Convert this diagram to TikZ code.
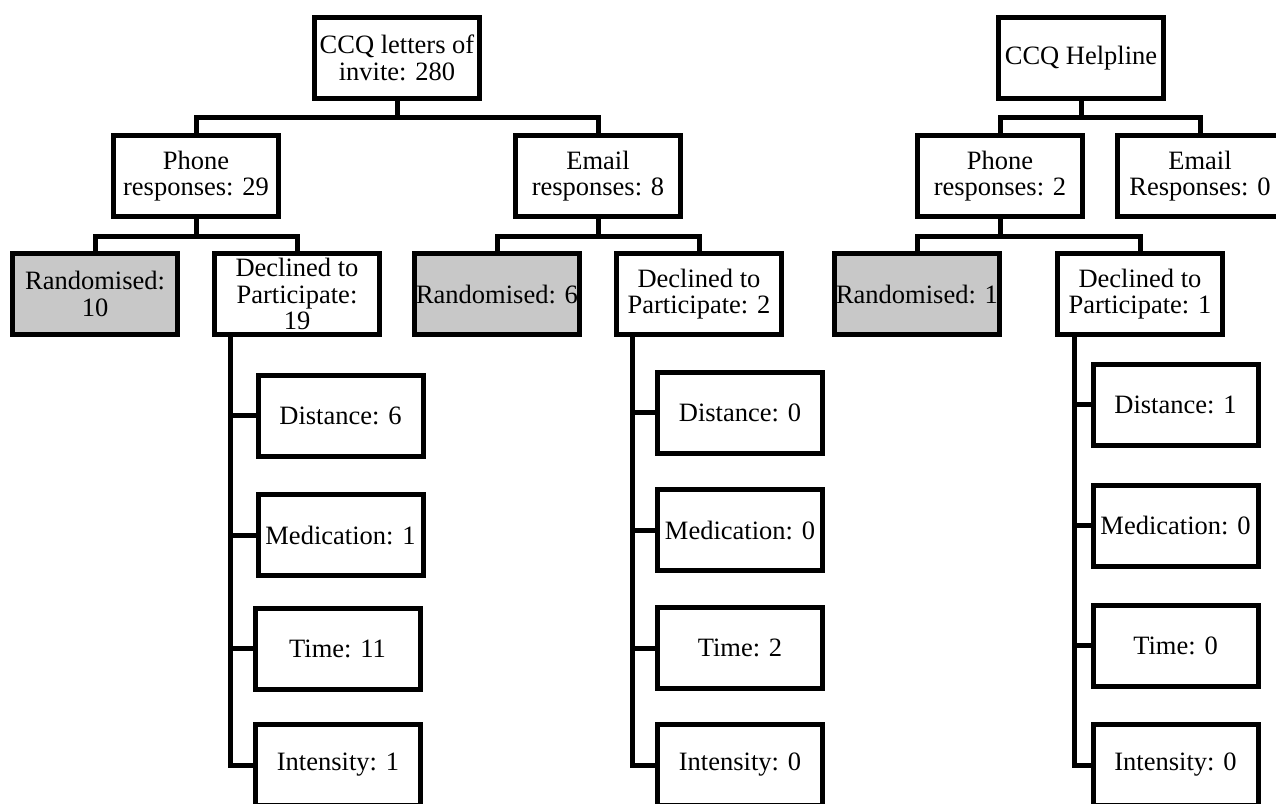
\documentclass[tikz,border=0pt]{standalone}
\usepackage{fontspec}
\setmainfont{Liberation Serif}
\definecolor{boxgray}{RGB}{200,200,200}
\begin{document}
\begin{tikzpicture}[x=1pt,y=-1pt,
  box/.style={draw=black, line width=5pt, fill=white, minimum width=165pt, minimum height=81pt,
    inner sep=0pt, align=center, font=\fontsize{26.5}{26.5}\selectfont},
  grey/.style={box, fill=boxgray},
  conn/.style={draw=black, line width=5pt, line join=miter, line cap=butt}]
\clip (0,0) rectangle (1276,803);
\fill[white] (0,0) rectangle (1276,803);
% level 1
\node[box] (r1) at (397,58) {CCQ letters of\\invite: 280};
\node[box] (hl) at (1081,58) {CCQ Helpline};
% level 2
\node[box] (p29) at (196,176) {Phone\\responses: 29};
\node[box] (e8) at (598,176) {Email\\responses: 8};
\node[box] (p2) at (1000,176) {Phone\\responses: 2};
\node[box] (e0) at (1200,176) {Email\\Responses: 0};
% level 3
\node[grey] (rand10) at (95,294) {Randomised:\\10};
\node[box] (d19) at (297,294) {Declined to\\Participate:\\19};
\node[grey] (rand6) at (497,294) {Randomised: 6};
\node[box] (d2) at (699,294) {Declined to\\Participate: 2};
\node[grey] (rand1) at (917,294) {Randomised: 1};
\node[box] (d1) at (1140,294) {Declined to\\Participate: 1};
% reasons, left
\node[box] (dist6) at (340.5,415.5) {Distance: 6};
\node[box] (med1) at (340.5,535) {Medication: 1};
\node[box] (time11) at (337.5,648.5) {Time: 11};
\node[box] (int1) at (338,765) {Intensity: 1};
% reasons, email
\node[box] (dist0) at (740,412.5) {Distance: 0};
\node[box] (med0) at (740,530) {Medication: 0};
\node[box] (time2) at (740,648) {Time: 2};
\node[box] (int0) at (740,765) {Intensity: 0};
% reasons, helpline
\node[box] (dist1) at (1175.5,404.5) {Distance: 1};
\node[box] (medh) at (1175.5,525.5) {Medication: 0};
\node[box] (timeh) at (1175.5,645.5) {Time: 0};
\node[box] (inth) at (1175.5,765) {Intensity: 0};
% bar levels and trunks
\coordinate (b1) at (0,117);
\coordinate (b2) at (0,236);
\coordinate (ta) at (230,0);
\coordinate (tb) at (632,0);
\coordinate (tc) at (1074,0);
% connectors level 1 -> 2
\draw[conn] (r1.south) -- (r1.south |- b1);
\draw[conn] (p29.north) -- (p29.north |- b1) -- (e8.north |- b1) -- (e8.north);
\draw[conn] (hl.south) -- (hl.south |- b1);
\draw[conn] (p2.north) -- (p2.north |- b1) -- (e0.north |- b1) -- (e0.north);
% level 2 -> 3
\draw[conn] (p29.south) -- (p29.south |- b2);
\draw[conn] (rand10.north) -- (rand10.north |- b2) -- (d19.north |- b2) -- (d19.north);
\draw[conn] (e8.south) -- (e8.south |- b2);
\draw[conn] (rand6.north) -- (rand6.north |- b2) -- (d2.north |- b2) -- (d2.north);
\draw[conn] (p2.south) -- (p2.south |- b2);
\draw[conn] (rand1.north) -- (rand1.north |- b2) -- (d1.north |- b2) -- (d1.north);
% trunks
\draw[conn] (d19.south -| ta) -- (ta |- int1.west) -- (int1.west);
\draw[conn] (ta |- dist6.west) -- (dist6.west);
\draw[conn] (ta |- med1.west) -- (med1.west);
\draw[conn] (ta |- time11.west) -- (time11.west);
\draw[conn] (d2.south -| tb) -- (tb |- int0.west) -- (int0.west);
\draw[conn] (tb |- dist0.west) -- (dist0.west);
\draw[conn] (tb |- med0.west) -- (med0.west);
\draw[conn] (tb |- time2.west) -- (time2.west);
\draw[conn] (d1.south -| tc) -- (tc |- inth.west) -- (inth.west);
\draw[conn] (tc |- dist1.west) -- (dist1.west);
\draw[conn] (tc |- medh.west) -- (medh.west);
\draw[conn] (tc |- timeh.west) -- (timeh.west);
\end{tikzpicture}
\end{document}
